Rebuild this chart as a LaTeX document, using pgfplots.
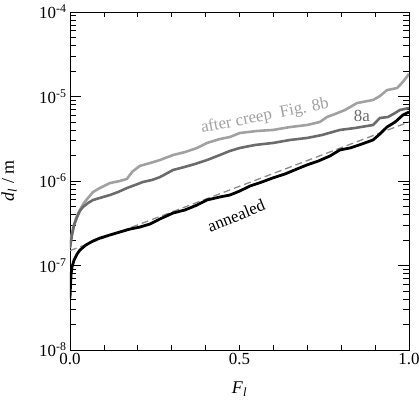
\documentclass[border=0pt]{standalone}
\usepackage{pgfplots}
\pgfplotsset{compat=1.18}
\usepackage{fontspec}
\setmainfont{Liberation Serif}

\definecolor{creepb}{gray}{0.63}
\definecolor{creepa}{gray}{0.42}
\definecolor{fitline}{gray}{0.55}

\begin{document}
\begin{tikzpicture}
\begin{axis}[
  scale only axis,
  width=339bp, height=338bp,
  xmin=0, xmax=1,
  ymode=log, ymin=1e-8, ymax=1e-4,
  xtick={0,0.5,1},
  xticklabels={0.0,0.5,1.0},
  minor xtick={0.1,0.2,0.3,0.4,0.6,0.7,0.8,0.9},
  ytick={1e-8,1e-7,1e-6,1e-5,1e-4},
  yticklabels={10\textsuperscript{-8},10\textsuperscript{-7},10\textsuperscript{-6},10\textsuperscript{-5},10\textsuperscript{-4}},
  tick align=inside,
  major tick length=11bp,
  minor tick length=6bp,
  xtick style={/pgfplots/major tick length=5bp, /pgfplots/minor tick length=5bp},
  tick style={black, line width=0.8pt},
  axis line style={line width=0.8pt},
  tick label style={font=\fontsize{17}{19}\selectfont},
  /pgf/number format/assume math mode=true,
  xlabel={\textit{F}\textsubscript{\textit{l}}},
  ylabel={\textit{d}\textsubscript{\textit{l}} / m},
  label style={font=\fontsize{18}{20}\selectfont},
  xlabel style={at={(axis description cs:0.5,-0.115)}, anchor=center},
  ylabel style={at={(axis description cs:-0.18,0.5)}, anchor=center},
  clip=true,
]
\coordinate (sw) at (rel axis cs:0,0);
\coordinate (ne) at (rel axis cs:1,1);

% exponential fit to the annealed data
\addplot[fitline, dashed, dash pattern=on 7pt off 4pt, line width=1.3pt] coordinates {
  (0,1.5e-7) (1,5.0e-6)
};

% after creep (Fig. 8b)
\addplot[creepb, line width=2.6pt, line join=round] coordinates {
  (0,1.66e-7) (0.003,2.11e-7) (0.009,2.78e-7) (0.018,3.65e-7) (0.029,4.54e-7)
  (0.041,5.49e-7) (0.053,6.30e-7) (0.068,7.41e-7) (0.088,8.26e-7) (0.118,9.46e-7)
  (0.147,1.00e-6) (0.168,1.06e-6) (0.183,1.28e-6) (0.206,1.51e-6) (0.236,1.63e-6)
  (0.265,1.77e-6) (0.304,2.03e-6) (0.339,2.20e-6) (0.375,2.46e-6) (0.404,2.82e-6)
  (0.442,3.14e-6) (0.472,3.32e-6) (0.501,3.70e-6) (0.552,3.91e-6) (0.599,4.02e-6)
  (0.649,4.35e-6) (0.699,4.60e-6) (0.737,4.99e-6) (0.758,5.72e-6) (0.782,6.21e-6)
  (0.811,6.92e-6) (0.847,8.37e-6) (0.894,9.10e-6) (0.914,1.01e-5) (0.935,1.19e-5)
  (0.965,1.26e-5) (0.982,1.49e-5) (1.0,1.85e-5)
};

% after creep (Fig. 8a)
\addplot[creepa, line width=2.6pt, line join=round] coordinates {
  (0,1.61e-7) (0.006,2.30e-7) (0.012,3.01e-7) (0.021,3.75e-7) (0.029,4.42e-7)
  (0.038,4.92e-7) (0.053,5.49e-7) (0.068,5.96e-7) (0.088,6.30e-7) (0.118,6.83e-7)
  (0.142,7.41e-7) (0.168,8.26e-7) (0.192,8.97e-7) (0.215,9.73e-7) (0.242,1.03e-6)
  (0.265,1.11e-6) (0.304,1.35e-6) (0.339,1.47e-6) (0.369,1.59e-6) (0.404,1.77e-6)
  (0.442,2.03e-6) (0.472,2.27e-6) (0.501,2.46e-6) (0.546,2.67e-6) (0.599,2.82e-6)
  (0.649,3.06e-6) (0.699,3.23e-6) (0.743,3.50e-6) (0.796,4.02e-6) (0.841,4.24e-6)
  (0.894,4.60e-6) (0.914,5.57e-6) (0.938,5.72e-6) (0.959,6.38e-6) (0.973,6.92e-6)
  (1.0,7.31e-6)
};

% annealed
\addplot[black, line width=2.8pt, line join=round] coordinates {
  (0,4.1e-8) (0.0015,5.9e-8) (0.003,7.7e-8) (0.006,9.6e-8) (0.012,1.16e-7)
  (0.021,1.37e-7) (0.029,1.52e-7) (0.047,1.75e-7) (0.068,1.95e-7) (0.088,2.11e-7)
  (0.118,2.30e-7) (0.147,2.49e-7) (0.177,2.70e-7) (0.206,2.85e-7) (0.236,3.10e-7)
  (0.265,3.55e-7) (0.304,4.18e-7) (0.339,4.54e-7) (0.375,5.20e-7) (0.404,5.96e-7)
  (0.442,6.47e-7) (0.472,6.83e-7) (0.501,7.62e-7) (0.531,8.73e-7) (0.566,9.73e-7)
  (0.599,1.09e-6) (0.634,1.21e-6) (0.670,1.39e-6) (0.699,1.55e-6) (0.732,1.72e-6)
  (0.767,1.98e-6) (0.796,2.33e-6) (0.826,2.46e-6) (0.861,2.74e-6) (0.894,3.06e-6)
  (0.914,3.60e-6) (0.935,4.35e-6) (0.959,4.99e-6) (0.982,6.04e-6) (1.0,6.56e-6)
};

\node[creepb, rotate=11, font=\fontsize{17}{19}\selectfont] at (axis cs:0.575,5.8e-6) {after creep\enspace Fig. 8b};
\node[creepa, font=\fontsize{17}{19}\selectfont] at (axis cs:0.861,5.9e-6) {8a};
\node[black, rotate=22, font=\fontsize{17}{19}\selectfont] at (axis cs:0.49,3.9e-7) {annealed};
\end{axis}
\pgfresetboundingbox
\useasboundingbox ([shift={(-70bp,-52bp)}]sw) rectangle ([shift={(10bp,12bp)}]ne);
\end{tikzpicture}
\end{document}
